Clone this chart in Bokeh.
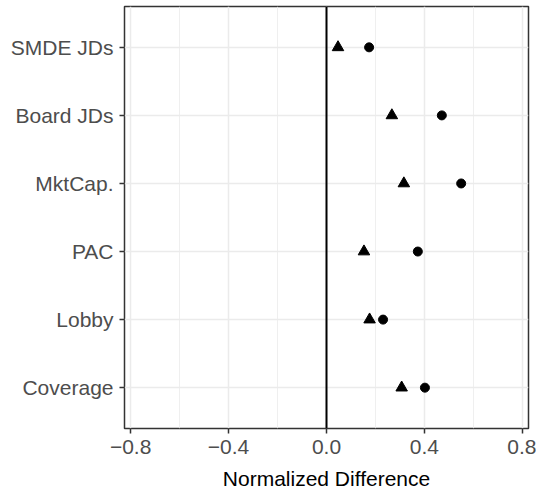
from bokeh.plotting import figure
from bokeh.models import FactorRange, Range1d, FixedTicker, CustomJSTickFormatter, Span, ColumnDataSource
from bokeh.embed import file_html
from bokeh.resources import INLINE

categories = ["SMDE JDs", "Board JDs", "MktCap.", "PAC", "Lobby", "Coverage"]
triangle_vals = [0.047, 0.267, 0.316, 0.153, 0.176, 0.307]
circle_vals = [0.174, 0.471, 0.550, 0.373, 0.231, 0.402]
x_ticks = [-0.8, -0.4, 0.0, 0.4, 0.8]
x_minor = [-0.6, -0.2, 0.2, 0.6]

FONT = "Liberation Sans"
TXT = "#4d4d4d"
DARK = "#333333"
GRID = "#ebebeb"

yr = FactorRange(factors=list(reversed(categories)), range_padding=0.1, range_padding_units="absolute")
p = figure(width=536, height=492, y_range=yr, x_range=Range1d(-0.825, 0.825),
           output_backend="svg", toolbar_location=None,
           min_border_left=124, min_border_right=8, min_border_top=6, min_border_bottom=62)

p.background_fill_color = "white"
p.border_fill_color = "white"
p.outline_line_color = DARK
p.outline_line_width = 1.5

p.xaxis.ticker = FixedTicker(ticks=x_ticks, minor_ticks=x_minor)
p.xaxis.formatter = CustomJSTickFormatter(code="return tick.toFixed(1).replace('-', '\u2212');")

for ax in (p.xaxis[0], p.yaxis[0]):
    ax.axis_line_color = None
    ax.major_tick_line_color = DARK
    ax.major_tick_line_width = 1.5
    ax.major_tick_out = 5
    ax.major_tick_in = 0
    ax.minor_tick_line_color = None
    ax.major_label_text_font = FONT
    ax.major_label_text_font_size = "21px"
    ax.major_label_text_color = TXT
    ax.major_label_standoff = 6

p.xaxis.axis_label = "Normalized Difference"
p.xaxis.axis_label_text_font = FONT
p.xaxis.axis_label_text_font_size = "21px"
p.xaxis.axis_label_text_font_style = "normal"
p.xaxis.axis_label_text_color = "#000000"
p.xaxis.axis_label_standoff = 10

p.xgrid.grid_line_color = GRID
p.xgrid.grid_line_width = 1.5
p.xgrid.minor_grid_line_color = GRID
p.xgrid.minor_grid_line_width = 0.8
p.ygrid.grid_line_color = GRID
p.ygrid.grid_line_width = 1.5

p.add_layout(Span(location=0, dimension="height", line_color="black", line_width=2))

src = ColumnDataSource(dict(cat=categories, tri=triangle_vals, circ=circle_vals))
p.scatter(x="tri", y="cat", source=src, marker="triangle", size=11.5,
          fill_color="black", line_color="black")
p.scatter(x="circ", y="cat", source=src, marker="circle", size=9,
          fill_color="black", line_color="black")

open("out.html", "w").write(file_html(p, INLINE))
